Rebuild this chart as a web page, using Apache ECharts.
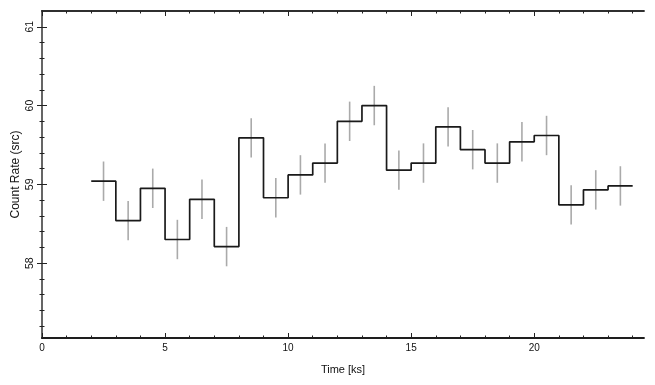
<!DOCTYPE html>
<html>
<head>
<meta charset="utf-8">
<script src="https://cdn.jsdelivr.net/npm/echarts@6/dist/echarts.min.js"></script>
<style>
  html, body { margin: 0; padding: 0; background: #fff; }
  #chart { width: 655px; height: 385px; }
</style>
</head>
<body>
<div id="chart"></div>
<script>
// bins of 1 ks, left edges
var binStart = [2, 3, 4, 5, 6, 7, 8, 9, 10, 11, 12, 13, 14, 15, 16, 17, 18, 19, 20, 21, 22, 23];
var rate = [59.04, 58.54, 58.95, 58.30, 58.81, 58.21, 59.59, 58.83, 59.12, 59.27, 59.80,
            60.00, 59.18, 59.27, 59.73, 59.44, 59.27, 59.54, 59.62, 58.74, 58.93, 58.98];
var rateErr = [0.25, 0.25, 0.25, 0.25, 0.25, 0.25, 0.25, 0.25, 0.25, 0.25, 0.25,
               0.25, 0.25, 0.25, 0.25, 0.25, 0.25, 0.25, 0.25, 0.25, 0.25, 0.25];
var binWidth = 1;

// axis ticks
var xMajor = [0, 5, 10, 15, 20];
var xMinor = [1, 2, 3, 4, 6, 7, 8, 9, 11, 12, 13, 14, 16, 17, 18, 19, 21, 22, 23, 24];
var yMajor = [58, 59, 60, 61];
var yMinor = [57.2, 57.4, 57.6, 57.8, 58.2, 58.4, 58.6, 58.8, 59.2, 59.4, 59.6, 59.8,
              60.2, 60.4, 60.6, 60.8];

var xMin = 0, xMax = 24.46;
var yMin = 57.05, yMax = 61.2;

var chart = echarts.init(document.getElementById('chart'));

// step line: one point per bin edge, last value repeated at the closing edge
var stepData = binStart.map(function (x, i) { return [x, rate[i]]; });
stepData.push([binStart[binStart.length - 1] + binWidth, rate[rate.length - 1]]);

// error bars at bin centres
var errData = binStart.map(function (x, i) {
  return [x + binWidth / 2, rate[i] - rateErr[i], rate[i] + rateErr[i]];
});

var fontFam = "'Liberation Sans', Arial, Helvetica, sans-serif";

function xAxisDef(pos, ticks, len, labels, lineColor) {
  return {
    type: 'value', position: pos, min: xMin, max: xMax, gridIndex: 0,
    axisLine: { show: true, lineStyle: { color: lineColor, width: 1.5 } },
    axisTick: { show: true, inside: true, length: len, customValues: ticks,
                lineStyle: { color: '#222', width: 1 } },
    axisLabel: { show: labels, customValues: ticks, margin: 5,
                 color: '#111', fontSize: 10, fontFamily: fontFam },
    splitLine: { show: false }
  };
}
function yAxisDef(pos, ticks, len, labels, lineColor) {
  return {
    type: 'value', position: pos, min: yMin, max: yMax, gridIndex: 0,
    axisLine: { show: true, lineStyle: { color: lineColor, width: 1.5 } },
    axisTick: { show: true, inside: true, length: len, customValues: ticks,
                lineStyle: { color: '#222', width: 1 } },
    axisLabel: { show: labels, customValues: ticks, margin: 6, rotate: 90,
                 color: '#111', fontSize: 10.5, fontFamily: fontFam },
    splitLine: { show: false }
  };
}

var xb = xAxisDef('bottom', xMajor, 5, true, '#111');
xb.name = 'Time [ks]';
xb.nameLocation = 'middle';
xb.nameGap = 26;
xb.nameTextStyle = { color: '#111', fontSize: 11, fontFamily: fontFam };

var yl = yAxisDef('left', yMajor, 5, true, '#555');
yl.name = 'Count Rate (src)';
yl.nameLocation = 'middle';
yl.nameGap = 20;
yl.nameMoveOverlap = false;
yl.nameTextStyle = { color: '#111', fontSize: 12, fontFamily: fontFam };

var option = {
  animation: false,
  backgroundColor: '#fff',
  grid: { left: 42, right: 11, top: 11, bottom: 47, containLabel: false, outerBoundsMode: 'none' },
  xAxis: [
    xb,
    xAxisDef('bottom', xMinor, 2.5, false, '#111'),
    xAxisDef('top', xMajor, 5, false, '#222'),
    xAxisDef('top', xMinor, 2.5, false, '#222')
  ],
  yAxis: [
    yl,
    yAxisDef('left', yMinor, 2.5, false, '#555'),
    yAxisDef('right', yMajor, 5, false, '#666'),
    yAxisDef('right', yMinor, 2.5, false, '#666')
  ],
  series: [
    {
      type: 'custom',
      xAxisIndex: 0, yAxisIndex: 0,
      z: 2,
      data: errData,
      renderItem: function (params, api) {
        var p1 = api.coord([api.value(0), api.value(1)]);
        var p2 = api.coord([api.value(0), api.value(2)]);
        return {
          type: 'line',
          shape: { x1: p1[0], y1: p1[1], x2: p2[0], y2: p2[1] },
          style: { stroke: '#aaaaaa', lineWidth: 1.6 }
        };
      }
    },
    {
      type: 'line',
      xAxisIndex: 0, yAxisIndex: 0,
      z: 3,
      step: 'end',
      data: stepData,
      symbol: 'none',
      lineStyle: { color: '#1a1a1a', width: 1.7 }
    }
  ]
};

chart.setOption(option);
</script>
</body>
</html>
